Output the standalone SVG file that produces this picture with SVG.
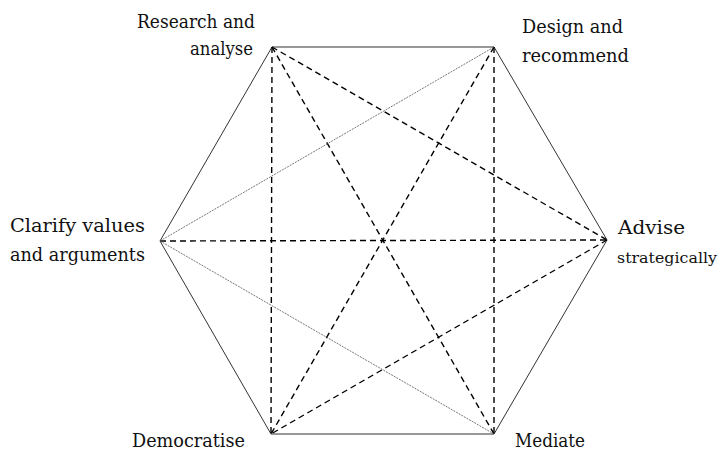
<svg xmlns="http://www.w3.org/2000/svg" width="723" height="453" viewBox="0 0 723 453">
<style>
.edge{stroke:#333;stroke-width:1;fill:none}
.dash{stroke:#000;stroke-width:1.4;stroke-dasharray:6,4;fill:none}
.dot{stroke:#555;stroke-width:0.8;stroke-dasharray:2,1;fill:none}
.lbl{font-family:'DejaVu Serif','Liberation Serif',serif;font-size:18px;fill:#111}
</style>
<rect width="723" height="453" fill="#fff"/>
<g id="connectors">
<polygon class="edge" points="272,47 494,47 607,240 494,434 271,434 160,241"/>
<line class="dash" x1="272" y1="47" x2="607" y2="240"/>
<line class="dash" x1="272" y1="47" x2="494" y2="434"/>
<line class="dash" x1="272" y1="47" x2="271" y2="434"/>
<line class="dash" x1="494" y1="47" x2="271" y2="434"/>
<line class="dash" x1="494" y1="47" x2="494" y2="434"/>
<line class="dash" x1="160" y1="241" x2="607" y2="240"/>
<line class="dash" x1="607" y1="240" x2="271" y2="434"/>
<line class="dot" x1="160" y1="241" x2="494" y2="47"/>
<line class="dot" x1="160" y1="241" x2="494" y2="434"/>
</g>
<g id="research" class="lbl">
<text x="255" y="28" text-anchor="end" textLength="118" lengthAdjust="spacingAndGlyphs">Research and</text>
<text x="253" y="55" text-anchor="end" textLength="63" lengthAdjust="spacingAndGlyphs">analyse</text>
</g>
<g id="design" class="lbl">
<text x="522" y="33" textLength="101" lengthAdjust="spacingAndGlyphs">Design and</text>
<text x="522" y="62" textLength="107" lengthAdjust="spacingAndGlyphs">recommend</text>
</g>
<g id="clarify" class="lbl">
<text x="145" y="232" text-anchor="end" textLength="135" lengthAdjust="spacingAndGlyphs">Clarify values</text>
<text x="145" y="261" text-anchor="end" textLength="135" lengthAdjust="spacingAndGlyphs">and arguments</text>
</g>
<g id="advise" class="lbl">
<text x="618" y="234" textLength="67" lengthAdjust="spacingAndGlyphs">Advise</text>
<text x="617" y="263" font-size="15.5" textLength="100" lengthAdjust="spacingAndGlyphs">strategically</text>
</g>
<g id="democratise" class="lbl">
<text x="132" y="447" textLength="113" lengthAdjust="spacingAndGlyphs">Democratise</text>
</g>
<g id="mediate" class="lbl">
<text x="515" y="447" textLength="70" lengthAdjust="spacingAndGlyphs">Mediate</text>
</g>
</svg>
